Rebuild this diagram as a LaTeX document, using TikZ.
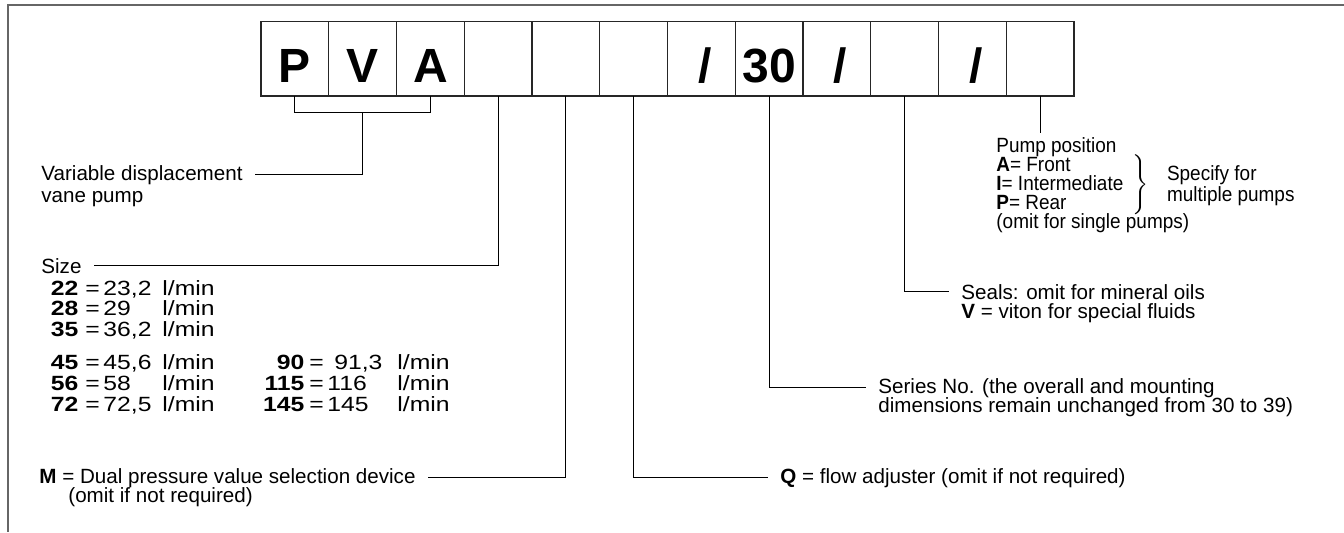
\documentclass[tikz,border=0pt]{standalone}
\usepackage{fontspec}
\setmainfont{Liberation Sans}
\usepackage{array}
\usetikzlibrary{positioning}
\newcommand\slsh{\hspace{3.5pt}/}
\tikzset{
  cell/.style={draw=black!85,line width=0.6pt,minimum width=33.875pt,minimum height=37.25pt,
    inner sep=0pt,outer sep=0pt,font=\fontsize{24}{24}\selectfont\bfseries,
    text height=23.25pt,text depth=0pt},
  lbl/.style={inner xsep=6pt,inner ysep=2pt,anchor=base west,
    font=\fontsize{10.3}{10.8}\selectfont},
  narrow/.style={font=\fontsize{10.3}{9.6}\selectfont\addfontfeature{FakeStretch=0.92}},
  conn/.style={line width=0.5pt}
}

\begin{document}
\begin{tikzpicture}[x=0.5pt,y=-0.5pt]
\useasboundingbox (0,0) rectangle (1344,532);
\draw[line width=1pt,black!60] (1344,5)--(8,5)--(8,532);
\foreach \i/\t in {1/P,2/V,3/A,4/{},5/{},6/{},7/\slsh,8/30,9/\slsh,10/{},11/\slsh,12/{}}
  \node[cell] (b\i) at (261+67.75*\i-33.875,58.75) {\t};
\draw[conn] (b1.south)--++(0,16) -| coordinate[pos=.25] (brk) (b3.south);
\node[lbl] (vdp) at (29,180) {Variable displacement};
\node[lbl] (vdp2) at (29,202) {vane pump};
\draw[conn] (brk) |- (vdp.east);
\node[lbl] (size) at (29,273) {Size};
\draw[conn] (b4.south) |- (size.east);
\node[lbl] (sizes) at (38,295) {\addfontfeature{FakeStretch=1.2}\fontsize{10.3}{10.1}\selectfont
\begin{tabular}[t]{@{}>{\bfseries}w{r}{14pt}@{\hspace{3.5pt}}w{l}{9pt}@{}w{l}{29.5pt}@{}w{l}{53.5pt}@{}%
>{\bfseries}w{r}{17.5pt}@{\hspace{2.5pt}}w{l}{9pt}@{}w{l}{35pt}@{}l@{}}
22 & = & 23,2 & l/min\\
28 & = & 29 & l/min\\
35 & = & 36,2 & l/min\\[6pt]
45 & = & 45,6 & l/min & 90 & = & \ 91,3 & l/min\\
56 & = & 58 & l/min & 115 & = & 116 & l/min\\
72 & = & 72,5 & l/min & 145 & = & 145 & l/min
\end{tabular}};
\node[lbl] (mdev) at (27,483) {\textbf{M} = Dual pressure value selection device};
\node[lbl] (mdev2) at (56,502) {(omit if not required)};
\draw[conn] (b5.south) |- (mdev.east);
\node[lbl] (flow) at (768,483) {\textbf{Q} = flow adjuster (omit if not required)};
\draw[conn] (b6.south) |- (flow.west);
\node[lbl] (ser) at (866,393) {Series No. (the overall and mounting};
\node[lbl] (ser2) at (866,412) {dimensions remain unchanged from 30 to 39)};
\draw[conn] (b8.south) |- (ser.west);
\node[lbl] (seal) at (949,299) {Seals: omit for mineral oils};
\node[lbl] (seal2) at (949,318) {\textbf{V} = viton for special fluids};
\draw[conn] (b10.south) |- (seal.west);
\node[lbl,narrow] (pump) at (984,152) {Pump position};
\foreach \t [count=\k] in {{\textbf{A}= Front},{\textbf{I}= Intermediate},{\textbf{P}= Rear},{(omit for single pumps)}}
  \node[lbl,narrow] (pos\k) at (984,152+19*\k) {\t};
\draw[conn] (b12.south)--(b12.south |- pump.north);
\node[inner sep=0pt] (brc) at (1139,186) {$\left.\vrule height 14pt depth 14pt width 0pt\right\}$};
\node[lbl,narrow,align=left,right=3pt of brc] (spec) {Specify for\\multiple pumps};
\end{tikzpicture}
\end{document}
